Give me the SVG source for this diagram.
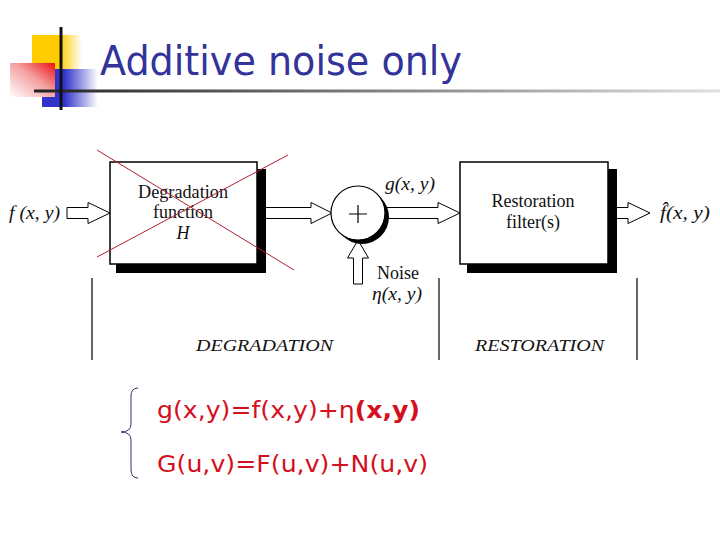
<svg xmlns="http://www.w3.org/2000/svg" width="720" height="540" viewBox="0 0 720 540">
<defs>
<linearGradient id="gy" x1="0" y1="0" x2="1" y2="0"><stop offset="0" stop-color="#ffcc00"/><stop offset="0.55" stop-color="#ffcc00"/><stop offset="1" stop-color="#ffffff"/></linearGradient>
<linearGradient id="gb" x1="0" y1="0" x2="1" y2="0"><stop offset="0" stop-color="#3333cc"/><stop offset="0.4" stop-color="#3333cc"/><stop offset="1" stop-color="#ffffff"/></linearGradient>
<linearGradient id="gr" x1="0" y1="1" x2="1" y2="0"><stop offset="0" stop-color="#ffffff"/><stop offset="0.55" stop-color="#f4a0a0"/><stop offset="1" stop-color="#ee1111"/></linearGradient>
<linearGradient id="gl" x1="0" y1="0" x2="1" y2="0"><stop offset="0" stop-color="#222222"/><stop offset="1" stop-color="#e0e0e0"/></linearGradient>
<style>
.arr{fill:#fff;stroke:#000;stroke-width:1}
.box{fill:#fff;stroke:#000;stroke-width:1.5}
.sh{fill:#000}
.t{font-family:"Liberation Serif","Times New Roman",serif;font-size:18px;fill:#111}
.ti{font-family:"Liberation Serif","Times New Roman",serif;font-size:18px;font-style:italic;fill:#111}
.cap{font-family:"Liberation Serif","Times New Roman",serif;font-size:17px;font-style:italic;fill:#111}
.eq{font-family:"DejaVu Sans",Verdana,sans-serif;font-size:23px;fill:#d41020}
.div{stroke:#000;stroke-width:1.2}
.x{stroke:#b02030;stroke-width:1}
</style>
</defs>
<rect width="720" height="540" fill="#fff"/>
<g id="logo">
<rect x="32" y="35" width="50" height="35" fill="url(#gy)"/>
<rect x="42" y="69" width="56" height="38" fill="url(#gb)"/>
<rect x="10" y="63" width="45" height="34" fill="url(#gr)"/>
<rect x="34" y="89.5" width="686" height="3" fill="url(#gl)"/>
<line x1="61" y1="27" x2="61" y2="110" stroke="#111" stroke-width="3"/>
</g>
<text id="title" x="100" y="75" font-family="DejaVu Sans,Verdana,sans-serif" font-size="40" fill="#333399" textLength="362" lengthAdjust="spacingAndGlyphs">Additive noise only</text>
<g id="connectors">
<path class="arr" d="M67,207.5 H88 V202.5 L110,213 L88,223.5 V218.5 H67 Z"/>
<path class="arr" d="M262,207.5 H311 V202.5 L332,213 L311,223.5 V218.5 H262 Z"/>
<path class="arr" d="M375,207.5 H438 V202.5 L460,213 L438,223.5 V218.5 H375 Z"/>
<path class="arr" d="M612,207.5 H628 V202.5 L650,213 L628,223.5 V218.5 H612 Z"/>
<path class="arr" d="M353.5,284 V258 H347.5 L358,240 L368.5,258 H362.5 V284 Z"/>
</g>
<g id="degradation">
<rect class="sh" x="116" y="169" width="150" height="104"/>
<rect class="box" x="110" y="162" width="147" height="102"/>
<text class="t" x="183" y="198" text-anchor="middle" textLength="90" lengthAdjust="spacingAndGlyphs">Degradation</text>
<text class="t" x="183" y="218" text-anchor="middle">function</text>
<text class="ti" x="183" y="239" text-anchor="middle">H</text>
<line class="x" x1="97" y1="150" x2="294" y2="270"/>
<line class="x" x1="97" y1="257" x2="288" y2="155"/>
</g>
<g id="adder">
<circle cx="362" cy="217" r="27" fill="#000"/>
<circle cx="358" cy="213" r="27" fill="#fff" stroke="#000" stroke-width="1.2"/>
<path d="M349,214 H367 M358,205 V223" stroke="#000" stroke-width="1.2"/>
</g>
<g id="restoration">
<rect class="sh" x="467" y="169" width="150" height="104"/>
<rect class="box" x="460" y="162" width="148" height="102"/>
<text class="t" x="533" y="207" text-anchor="middle">Restoration</text>
<text class="t" x="533" y="228" text-anchor="middle">filter(s)</text>
</g>
<g id="labels">
<text class="ti" x="9" y="219" textLength="51" lengthAdjust="spacingAndGlyphs">f (x, y)</text>
<text class="ti" x="385" y="190" textLength="50" lengthAdjust="spacingAndGlyphs">g(x, y)</text>
<text class="ti" x="660" y="219" textLength="50" lengthAdjust="spacingAndGlyphs">f̂(x, y)</text>
<text class="t" x="377" y="279">Noise</text>
<text class="ti" x="372" y="300" textLength="50" lengthAdjust="spacingAndGlyphs">η(x, y)</text>
</g>
<g id="dividers">
<line class="div" x1="92" y1="278" x2="92" y2="360"/>
<line class="div" x1="439" y1="278" x2="439" y2="360"/>
<line class="div" x1="637" y1="278" x2="637" y2="360"/>
<text class="cap" x="196" y="351" textLength="137" lengthAdjust="spacingAndGlyphs">DEGRADATION</text>
<text class="cap" x="475" y="351" textLength="129" lengthAdjust="spacingAndGlyphs">RESTORATION</text>
</g>
<g id="equations">
<path d="M138,388 Q131,388 131,396 L131,424 Q131,432 121,432 Q131,432 131,440 L131,470 Q131,478 138,478" fill="none" stroke="#333366" stroke-width="1"/>
<text class="eq" x="157" y="418" textLength="263" lengthAdjust="spacingAndGlyphs">g(x,y)=f(x,y)+η<tspan font-weight="bold">(x,y)</tspan></text>
<text class="eq" x="157" y="472" textLength="271" lengthAdjust="spacingAndGlyphs">G(u,v)=F(u,v)+N(u,v)</text>
</g>
</svg>
